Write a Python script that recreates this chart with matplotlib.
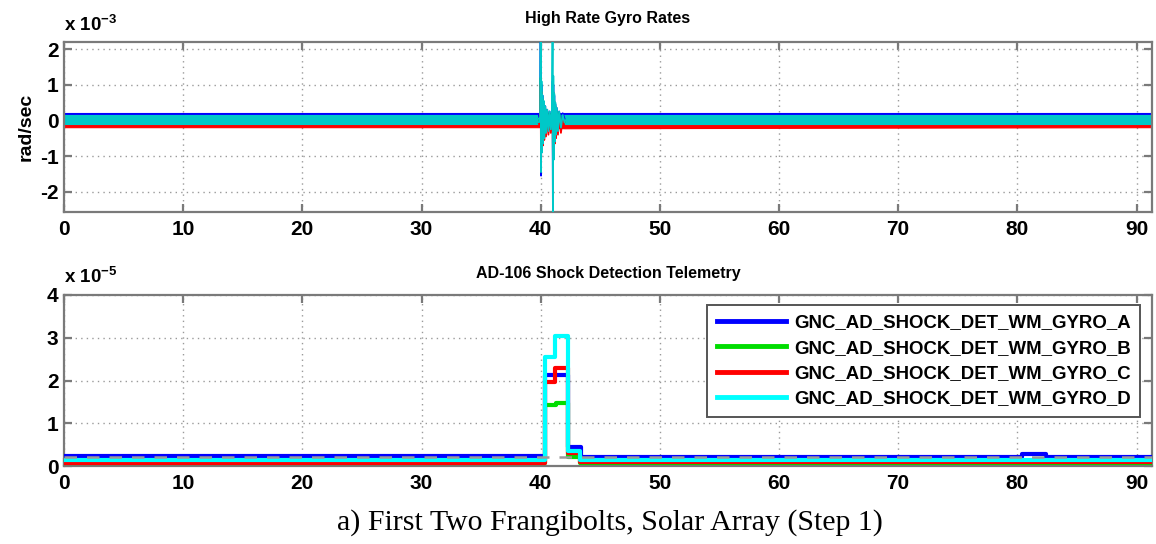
import matplotlib
matplotlib.use('Agg')
import numpy as np
import matplotlib.pyplot as plt
from matplotlib.ticker import FuncFormatter

plt.rcParams['font.family'] = ['Liberation Sans', 'DejaVu Sans']
plt.rcParams['font.weight'] = 'bold'
plt.rcParams['mathtext.fontset'] = 'custom'
plt.rcParams['mathtext.rm'] = 'Liberation Sans:bold'
plt.rcParams['mathtext.bf'] = 'Liberation Sans:bold'

# ---------------- data ----------------
T_END = 91.3
series_names = ['GNC_AD_SHOCK_DET_WM_GYRO_A', 'GNC_AD_SHOCK_DET_WM_GYRO_B',
                'GNC_AD_SHOCK_DET_WM_GYRO_C', 'GNC_AD_SHOCK_DET_WM_GYRO_D']
series_colors = ['#0000ff', '#00dd00', '#ff0000', '#00ffff']
rate_colors = ['#0000ff', '#00cc00', '#ff0000', '#00c8c8']

# Top plot: gyro rate noise envelopes (x 1e-3 rad/s)
band_t = [0.0, 39.9, 42.0, T_END]
band_lo_a = [-0.02, -0.02, -0.02, -0.02]
band_hi_a = [0.20, 0.20, 0.20, 0.20]
band_lo_b = [-0.10, -0.10, -0.10, -0.10]
band_hi_b = [0.08, 0.08, 0.08, 0.08]
band_lo_c = [-0.19, -0.19, -0.22, -0.19]
band_hi_c = [0.00, 0.00, 0.00, 0.00]
band_lo_d = [-0.09, -0.09, -0.09, -0.09]
band_hi_d = [0.14, 0.14, 0.14, 0.14]

# Top plot: frangibolt transients (x 1e-3 rad/s)
spike_t = [39.85, 39.95, 40.00, 40.03, 40.07, 40.11, 40.15, 40.20, 40.25, 40.30,
           40.38, 40.45, 40.55, 40.65, 40.75, 40.85, 40.95, 41.00, 41.03, 41.06,
           41.10, 41.14, 41.18, 41.23, 41.28, 41.35, 41.45, 41.55, 41.70, 41.85, 42.00]
spike_a = [0.15, -0.05, 2.60, -1.55, 1.00, -0.80, 0.70, -0.60, 0.50, -0.45,
           0.40, -0.35, 0.30, -0.25, 0.25, -0.20, 0.25, 1.10, -2.80, 1.00,
           -0.90, 0.70, -0.55, 0.45, -0.35, 0.35, -0.25, 0.25, -0.15, 0.20, 0.05]
spike_b = [0.05, -0.05, 1.20, -1.00, 0.80, -0.70, 0.60, -0.50, 0.45, -0.40,
           0.35, -0.30, 0.25, -0.25, 0.20, -0.20, 0.20, 0.90, -1.20, 0.80,
           -0.70, 0.55, -0.45, 0.40, -0.30, 0.25, -0.25, 0.20, -0.15, 0.10, -0.05]
spike_c = [-0.10, -0.15, 1.00, -1.40, 0.80, -0.85, 0.55, -0.70, 0.40, -0.55,
           0.30, -0.45, 0.20, -0.40, 0.15, -0.35, 0.10, 0.80, -1.30, 0.60,
           -0.90, 0.45, -0.65, 0.30, -0.50, 0.20, -0.40, 0.10, -0.35, 0.05, -0.20]
spike_d = [0.05, -0.05, 2.60, -1.45, 1.10, -0.90, 0.70, -0.65, 0.55, -0.50,
           0.40, -0.35, 0.30, -0.30, 0.25, -0.25, 0.30, 2.60, -2.80, 1.25,
           -1.10, 0.75, -0.60, 0.50, -0.40, 0.35, -0.30, 0.25, -0.20, 0.15, -0.05]

# Bottom plot: shock detection telemetry steps (x 1e-5)
shock_t_a = [0.0, 40.35, 42.30, 43.40, 80.40, 82.40, T_END]
shock_v_a = [0.23, 2.12, 0.45, 0.21, 0.27, 0.21, 0.21]
shock_t_b = [0.0, 40.35, 41.30, 42.30, 43.30, T_END]
shock_v_b = [0.08, 1.42, 1.48, 0.20, 0.08, 0.08]
shock_t_c = [0.0, 40.35, 41.20, 42.30, 43.30, T_END]
shock_v_c = [0.08, 1.96, 2.30, 0.30, 0.09, 0.09]
shock_t_d = [0.0, 40.35, 41.20, 42.30, 43.30, T_END]
shock_v_d = [0.14, 2.54, 3.05, 0.35, 0.14, 0.14]
threshold_t = [0.0, T_END]
threshold_v = [0.22, 0.22]

top_title = 'High Rate Gyro Rates'
bottom_title = 'AD-106 Shock Detection Telemetry'
top_ylabel = 'rad/sec'
caption = 'a) First Two Frangibolts, Solar Array (Step 1)'
x_ticks = [0, 10, 20, 30, 40, 50, 60, 70, 80, 90]
top_yticks = [-2, -1, 0, 1, 2]
bottom_yticks = [0, 1, 2, 3, 4]

S1 = 1e-3
S2 = 1e-5

# ---------------- figure ----------------
fig = plt.figure(figsize=(11.56, 5.44), dpi=100)
ax1 = fig.add_axes([64/1156, 1-212/544, 1088/1156, 170/544])
ax2 = fig.add_axes([64/1156, 1-466/544, 1088/1156, 171/544])

frame_col = '#7a7a7a'
for ax in (ax1, ax2):
    for sp in ax.spines.values():
        sp.set_color(frame_col)
        sp.set_linewidth(1.6)
    ax.tick_params(direction='in', top=True, right=True, length=6, width=1.6,
                   color=frame_col, labelcolor='black', labelsize=15, pad=4)
    ax.grid(True, linestyle=(0, (1, 3)), color='#9a9a9a', linewidth=1.0)
    ax.set_axisbelow(True)
    ax.set_xlim(0, T_END)
    ax.set_xticks(x_ticks)
    ax.tick_params(axis='x', pad=6)

# top panel
bands = [(band_lo_a, band_hi_a), (band_lo_b, band_hi_b),
         (band_lo_c, band_hi_c), (band_lo_d, band_hi_d)]
spikes = [spike_a, spike_b, spike_c, spike_d]
for (lo, hi), sp, col in zip(bands, spikes, rate_colors):
    ax1.fill_between(band_t, np.array(lo)*S1, np.array(hi)*S1, color=col,
                     linewidth=0.8, edgecolor=col, zorder=2)
    ax1.plot(spike_t, np.array(sp)*S1, color=col, lw=1.3, zorder=3)
ax1.set_ylim(-2.57*S1, 2.2*S1)
ax1.set_yticks(np.array(top_yticks)*S1)
ax1.yaxis.set_major_formatter(FuncFormatter(lambda v, _: f'{round(v/S1):d}'))
ax1.set_title(top_title, fontsize=11.5, fontweight='bold', pad=14)
ax1.set_ylabel(top_ylabel, fontsize=14, fontweight='bold', labelpad=4)

# bottom panel
shock = [(shock_t_a, shock_v_a), (shock_t_b, shock_v_b),
         (shock_t_c, shock_v_c), (shock_t_d, shock_v_d)]
for (t, v), col, name in zip(shock, series_colors, series_names):
    ax2.step(t, np.array(v)*S2, where='post', color=col, lw=3.0, label=name, zorder=3)
ax2.plot(threshold_t, np.array(threshold_v)*S2, color='#999999', lw=1.8,
         linestyle=(0, (5, 4)), zorder=4)
ax2.set_ylim(0, 4*S2)
ax2.set_yticks(np.array(bottom_yticks)*S2)
ax2.yaxis.set_major_formatter(FuncFormatter(lambda v, _: f'{round(v/S2):d}'))
ax2.set_title(bottom_title, fontsize=11.5, fontweight='bold', pad=12)
leg = ax2.legend(loc='upper right', bbox_to_anchor=(0.989, 0.9415), borderaxespad=0,
                 fontsize=13.4, handlelength=3.7, labelspacing=0.45, fancybox=False,
                 framealpha=1, edgecolor='#555555', borderpad=0.5, handletextpad=0.45)
leg.get_frame().set_linewidth(1.4)
for line in leg.get_lines():
    line.set_linewidth(3.5)
for txt in leg.get_texts():
    txt.set_fontweight('bold')

# exponent labels
fig.text(64/1156, 1-25/544, r'x 10$^{-3}$', fontsize=13.5, fontweight='bold',
         ha='left', va='center')
fig.text(64/1156, 1-277/544, r'x 10$^{-5}$', fontsize=13.5, fontweight='bold',
         ha='left', va='center')

fig.text(610/1156, 1-523/544, caption, family='Liberation Serif', fontweight='normal',
         fontsize=21.5, ha='center', va='center')

fig.savefig('out.png', dpi=100)
